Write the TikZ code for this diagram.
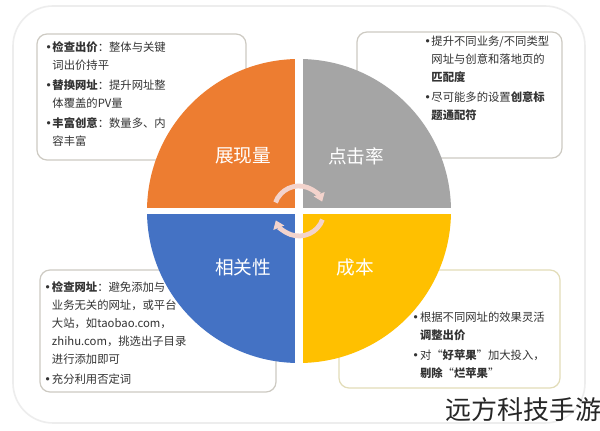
\documentclass[tikz,border=0pt]{standalone}
\usepackage{fontspec}
\setmainfont{Noto Sans CJK SC}
\newfontfamily\dvfont{DejaVu Sans}
\usetikzlibrary{arrows.meta}
\definecolor{qorange}{HTML}{ED7D31}
\definecolor{qgray}{HTML}{A5A5A5}
\definecolor{qblue}{HTML}{4472C4}
\definecolor{qyellow}{HTML}{FFC000}
\definecolor{ringpink}{HTML}{F3D3CC}
\definecolor{boxline}{HTML}{CDCAC2}
\definecolor{boxlinew}{HTML}{E2DCB8}
\definecolor{framec}{HTML}{EDEDED}
\definecolor{txt}{HTML}{333333}
\newcommand\bul{{\dvfont •}}
\begin{document}
\begin{tikzpicture}[x=0.75pt,y=0.75pt,
  panel/.style={draw=boxline, line width=0.9pt, fill=white, rounded corners=7.5pt, inner sep=0pt},
  notes/.style={anchor=north west, inner sep=0pt, text=txt, font=\fontsize{8.5pt}{13.5pt}\selectfont},
  qlabel/.style={text=white, font=\fontsize{14pt}{16pt}\selectfont},
  ring/.style={draw=ringpink, line width=3.6pt, -{Triangle[length=6pt,width=8.5pt]}}
]
\useasboundingbox (0,0) rectangle (600,431);
\fill[white] (0,0) rectangle (600,431);
% outer frame
\node[draw=framec, line width=1.2pt, rounded corners=30pt, minimum width=572*0.75pt, minimum height=417*0.75pt, inner sep=0pt] (frame) at (299,216.5) {};
% panels
\node[panel, minimum width=209*0.75pt, minimum height=126*0.75pt] (tl) at (141.5,334) {};
\node[panel, minimum width=205*0.75pt, minimum height=126*0.75pt] (tr) at (459.5,336) {};
\node[panel, minimum width=236*0.75pt, minimum height=122*0.75pt] (bl) at (158,100) {};
\node[panel, draw=boxlinew, minimum width=221*0.75pt, minimum height=118*0.75pt] (br) at (449.5,102) {};
% notes
\node[notes] (tltext) at (45,392) {\begin{tabular}{@{}p{5.4pt}@{}l@{}}
\bul & \textbf{检查出价}：整体与关键\\
 & 词出价持平\\[1.5pt]
\bul & \textbf{替换网址}：提升网址整\\
 & 体覆盖的PV量\\[1.5pt]
\bul & \textbf{丰富创意}：数量多、内\\
 & 容丰富
\end{tabular}};
\node[notes] (trtext) at (424,398) {\begin{tabular}{@{}p{5.4pt}@{}l@{}}
\bul & 提升不同业务/不同类型\\
 & 网址与创意和落地页的\\
 & \textbf{匹配度}\\[1.5pt]
\bul & 尽可能多的设置\textbf{创意标}\\
 & \textbf{题通配符}
\end{tabular}};
\node[notes] (bltext) at (44,152) {\begin{tabular}{@{}p{5.8pt}@{}l@{}}
\bul & \textbf{检查网址}：避免添加与\\
 & 业务无关的网址，或平台\\
 & 大站，如taobao.com，\\
 & zhihu.com，挑选出子目录\\
 & 进行添加即可\\[1pt]
\bul & 充分利用否定词
\end{tabular}};
\node[notes] (brtext) at (412,122) {\begin{tabular}{@{}p{5.8pt}@{}l@{}}
\bul & 根据不同网址的效果灵活\\
 & \textbf{调整出价}\\[1.5pt]
\bul & 对“\textbf{好苹果}”加大投入，\\
 & \textbf{剔除}“\textbf{烂苹果}”
\end{tabular}};
% circle quadrants
\coordinate (c) at (299,220);
\fill[qorange] (c) -- ++(90:152) arc[start angle=90,end angle=180,radius=152] -- cycle;
\fill[qgray] (c) -- ++(0:152) arc[start angle=0,end angle=90,radius=152] -- cycle;
\fill[qblue] (c) -- ++(180:152) arc[start angle=180,end angle=270,radius=152] -- cycle;
\fill[qyellow] (c) -- ++(270:152) arc[start angle=270,end angle=360,radius=152] -- cycle;
\draw[white, line width=6pt] (299,64) -- (299,376);
\draw[white, line width=4pt] (143,220) -- (455,220);
% labels
\node[qlabel] (show) at (243,275) {展现量};
\node[qlabel] (ctr) at (356,275) {点击率};
\node[qlabel] (rel) at (243,164) {相关性};
\node[qlabel] (cost) at (355,164) {成本};
% ring arrows
\draw[ring] ([shift={(160:25)}]c) arc[start angle=160,end angle=22,radius=25];
\draw[ring] ([shift={(-20:25)}]c) arc[start angle=-20,end angle=-158,radius=25];
% watermark
\node[text=black!85, font=\fontsize{19.5pt}{22pt}\selectfont, inner sep=0pt] (wm) at (523,21) {远方科技手游};
\end{tikzpicture}
\end{document}
